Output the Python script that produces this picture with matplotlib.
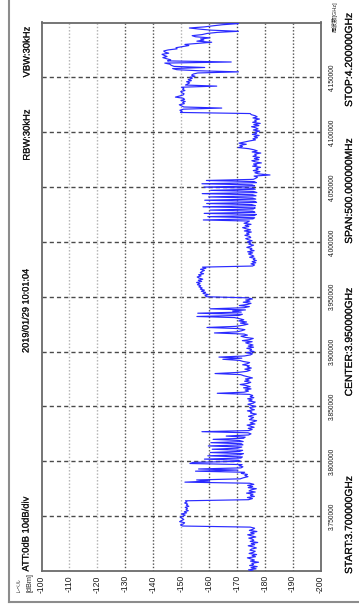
import numpy as np
import matplotlib
matplotlib.use("Agg")
import matplotlib.pyplot as plt
from matplotlib.lines import Line2D
import matplotlib.patheffects as pe

plt.rcParams["font.family"] = ["Liberation Sans", "Noto Sans CJK JP", "DejaVu Sans"]

# Sweep settings
start_ghz = 3.7
stop_ghz = 4.2

# Measured trace level [dBm], one value per 1 MHz from START to STOP
levels = [
    -175.8, -174.2, -176.9, -175.1, -177.3, -174.6, -176.0, -175.4, -177.8, -174.9,
    -176.3, -175.0, -173.8, -176.7, -175.5, -177.1, -174.4, -175.9, -176.6, -174.7,
    -175.3, -177.0, -175.8, -174.1, -176.4, -175.2, -177.5, -174.8, -176.1, -175.6,
    -174.3, -176.8, -175.4, -173.9, -176.2, -175.0, -177.2, -174.5, -175.7, -176.4,
    -174.8, -150.6, -149.8, -150.9, -151.3, -149.5, -150.2, -151.0, -150.4, -149.7,
    -150.8, -151.5, -150.1, -152.0, -151.2, -152.6, -151.8, -152.3, -151.5, -152.8,
    -151.9, -152.4, -151.3, -152.1, -151.6, -174.2, -175.6, -173.8, -176.3, -174.9,
    -175.8, -173.5, -176.6, -174.4, -175.2, -177.0, -174.1, -175.7, -173.9, -176.1,
    -174.6, -151.4, -160.2, -155.6, -171.2, -172.4, -174.0, -172.9, -173.8, -171.6,
    -172.8, -155.2, -170.4, -156.3, -171.5, -172.2, -170.8, -171.9, -153.2, -154.3,
    -171.3, -170.6, -158.4, -171.5, -172.0, -159.6, -171.2, -172.4, -160.5, -171.0,
    -172.1, -161.2, -170.3, -171.8, -159.8, -172.2, -171.6, -160.7, -172.3, -170.9,
    -161.5, -172.4, -173.0, -166.2, -174.2, -175.1, -174.0, -157.5, -174.3, -175.5,
    -174.1, -176.2, -175.0, -173.7, -176.5, -174.8, -175.9, -177.1, -174.5, -175.3,
    -176.0, -174.2, -175.6, -177.0, -174.9, -175.4, -173.8, -176.3, -175.1, -174.6,
    -176.8, -175.2, -174.0, -175.9, -176.6, -174.3, -175.5, -173.9, -176.1, -174.8,
    -175.7, -174.5, -163.0, -172.6, -174.2, -173.0, -175.1, -172.4, -174.8, -173.5,
    -171.2, -173.9, -175.0, -172.8, -174.4, -173.1, -175.6, -174.0, -172.5, -171.4,
    -162.2, -170.3, -173.6, -174.8, -172.9, -175.2, -173.7, -174.5, -172.1, -173.8,
    -174.6, -172.3, -170.9, -165.0, -171.8, -163.6, -172.7, -174.9, -175.6, -173.4,
    -176.2, -174.7, -175.3, -173.6, -176.0, -174.1, -175.8, -174.4, -173.2, -175.5,
    -172.0, -174.8, -175.9, -173.0, -171.5, -173.8, -172.6, -162.0, -170.1, -171.7,
    -172.9, -170.4, -159.3, -169.6, -172.2, -174.0, -171.3, -173.5, -170.7, -172.5,
    -171.0, -169.2, -155.7, -170.8, -172.0, -156.0, -171.6, -168.5, -173.1, -160.4,
    -172.6, -174.5, -170.9, -173.8, -175.1, -172.3, -174.7, -173.2, -175.6, -174.0,
    -159.2, -158.6, -159.8, -157.9, -158.8, -157.3, -158.4, -156.9, -157.6, -156.4,
    -157.1, -155.9, -156.8, -155.6, -157.4, -156.2, -157.8, -156.5, -155.8, -157.2,
    -156.3, -158.1, -156.9, -157.5, -158.4, -157.0, -158.9, -157.7, -175.6, -176.4,
    -175.1, -176.8, -175.5, -177.0, -175.9, -176.5, -174.6, -176.1, -175.3, -174.2,
    -175.7, -173.9, -176.2, -174.8, -175.4, -173.6, -174.9, -176.0, -174.3, -175.1,
    -173.8, -175.5, -174.1, -173.2, -175.0, -174.6, -172.9, -174.4, -173.5, -175.2,
    -172.7, -174.9, -173.3, -172.1, -174.3, -173.0, -175.1, -172.6, -173.9, -174.5,
    -158.0, -175.8, -176.4, -159.6, -176.2, -177.0, -158.3, -176.5, -175.7, -160.4,
    -175.9, -176.6, -157.9, -176.7, -175.4, -159.2, -177.1, -176.3, -158.5, -176.8,
    -175.6, -159.9, -176.9, -175.7, -157.6, -177.2, -176.0, -160.6, -176.6, -175.8,
    -158.2, -176.4, -175.5, -157.5, -177.0, -176.2, -159.1, -175.9, -176.8, -177.4,
    -176.2, -181.9, -177.8, -176.5, -178.3, -175.9, -177.6, -176.9, -178.5, -175.7,
    -177.2, -176.0, -178.8, -176.6, -175.4, -177.9, -176.3, -178.1, -175.8, -177.0,
    -176.4, -178.6, -175.5, -177.3, -176.1, -174.2, -170.5, -172.0, -171.1, -173.4,
    -170.8, -172.6, -174.5, -176.7, -175.8, -177.4, -176.2, -178.0, -175.6, -177.1,
    -176.5, -178.2, -175.9, -177.6, -176.8, -175.3, -177.9, -176.1, -178.4, -175.7,
    -177.0, -176.4, -178.1, -175.8, -177.3, -176.6, -175.2, -174.8, -149.8, -150.4,
    -149.6, -150.9, -164.6, -151.0, -150.2, -149.4, -151.2, -150.6, -151.5, -150.0,
    -151.3, -150.7, -148.0, -149.5, -150.8, -151.1, -150.3, -149.9, -151.4, -150.6,
    -151.0, -150.2, -162.8, -151.6, -152.4, -153.1, -152.0, -153.7, -152.6, -154.0,
    -153.2, -155.0, -153.8, -154.4, -156.0, -170.6, -156.5, -148.5, -147.0, -158.5,
    -147.5, -146.5, -146.0, -144.2, -168.0, -145.2, -146.3, -144.8, -143.5, -145.0,
    -144.0, -143.2, -145.6, -144.3, -143.8, -145.4, -148.6, -148.2, -150.5, -152.8,
    -151.4, -156.0, -161.0, -155.7, -158.2, -157.0, -160.4, -155.2, -154.0, -157.6,
    -159.3, -163.0, -170.6, -161.0, -156.5, -153.0, -158.4, -161.5, -165.0, -170.6,
    -161.0,
]

level_ticks = [-100, -110, -120, -130, -140, -150, -160, -170, -180, -190, -200]
level_tick_labels = ["-100", "-110", "-120", "-130", "-140", "-150", "-160",
                     "-170", "-180", "-190", "-200"]
freq_ticks = [3.75, 3.80, 3.85, 3.90, 3.95, 4.00, 4.05, 4.10, 4.15]
freq_tick_labels = ["3.750000", "3.800000", "3.850000", "3.900000", "3.950000",
                    "4.000000", "4.050000", "4.100000", "4.150000"]
freq_grid = [3.75, 3.80, 3.85, 3.90, 3.95, 4.00, 4.05, 4.10, 4.15]
light_level_grid = [-110, -120, -150]
dark_level_grid = [-130, -140, -160, -170, -180, -190]

header_texts = ["VBW:30kHz", "RBW:30kHz", "2019/01/29 10:01:04", "ATT:0dB 10dB/div"]
footer_texts = ["STOP:4.200000GHz", "SPAN:500.000000MHz", "CENTER:3.950000GHz",
                "START:3.700000GHz"]

W, H = 359, 614
fig = plt.figure(figsize=(W / 100, H / 100), dpi=100)
fig.patch.set_facecolor("white")

heavy = [pe.withStroke(linewidth=0.12, foreground="#111111")]


def fx(x):
    return x / W


def fy(y):
    return 1 - y / H


# Plot area: level runs left to right, frequency runs bottom to top
ax = fig.add_axes([41.5 / W, 1 - 571 / H, 279 / W, 548.5 / H])
freqs = np.linspace(start_ghz, stop_ghz, len(levels))

for f in freq_grid:
    ax.axhline(f, color="#4a4a4a", lw=1.0, ls=(0, (3.0, 2.2)), zorder=1)
for lv in light_level_grid:
    ax.axvline(lv, color="#b0b0b0", lw=1.0, ls=(0, (1.0, 1.4)), zorder=1)
for lv in dark_level_grid:
    ax.axvline(lv, color="#505050", lw=1.0, ls=(0, (1.0, 1.4)), zorder=1)

ax.plot(levels, freqs, color="#2a2aff", lw=0.85, zorder=3)

ax.set_xlim(-100, -200)
ax.set_ylim(start_ghz, stop_ghz)
for s in ax.spines.values():
    s.set_color("#6a6a6a")
    s.set_linewidth(1.3)

ax.set_xticks(level_ticks)
ax.set_xticklabels(level_tick_labels, rotation=90, fontsize=6.2)
ax.tick_params(axis="x", length=0, pad=3, colors="#1a1a1a")
ax.yaxis.tick_right()
ax.set_yticks(freq_ticks)
ax.set_yticklabels(freq_tick_labels, rotation=90, va="center", fontsize=4.8)
ax.tick_params(axis="y", length=0, pad=6, colors="#1a1a1a")

# Header line (instrument settings)
header_pos = [(27, 52), (27, 135), (26, 311), (26, 534)]
header_size = [6.8, 6.8, 6.6, 6.8]
for s, (x, y), fs in zip(header_texts, header_pos, header_size):
    fig.text(fx(x), fy(y), s, rotation=90, ha="center", va="center",
             fontsize=fs, color="#111111", path_effects=heavy)

# Level axis unit
fig.text(fx(18), fy(584), "レベル", rotation=90, ha="center", va="center",
         fontsize=3.6, color="#222222")
fig.text(fx(30), fy(583), "[dBm]", rotation=90, ha="center", va="center",
         fontsize=5.2, color="#222222")

# Frequency axis unit
fig.text(fx(335), fy(1), "周波数[GHz]", rotation=90, ha="center", va="top",
         fontsize=4.0, color="#222222")

# Footer line (sweep settings)
footer_pos = [(349, 60), (349, 191), (349, 342), (349, 525)]
for s, (x, y) in zip(footer_texts, footer_pos):
    fig.text(fx(x), fy(y), s, rotation=90, ha="center", va="center",
             fontsize=7.4, color="#111111", path_effects=heavy)

# Outer panel border
fig.add_artist(Line2D([fx(9), fx(9)], [fy(0), fy(602)], transform=fig.transFigure,
                      color="#8c8c8c", lw=1.5))
fig.add_artist(Line2D([fx(9), fx(W)], [fy(602), fy(602)], transform=fig.transFigure,
                      color="#8c8c8c", lw=1.5))

fig.savefig("out.png", dpi=100)
